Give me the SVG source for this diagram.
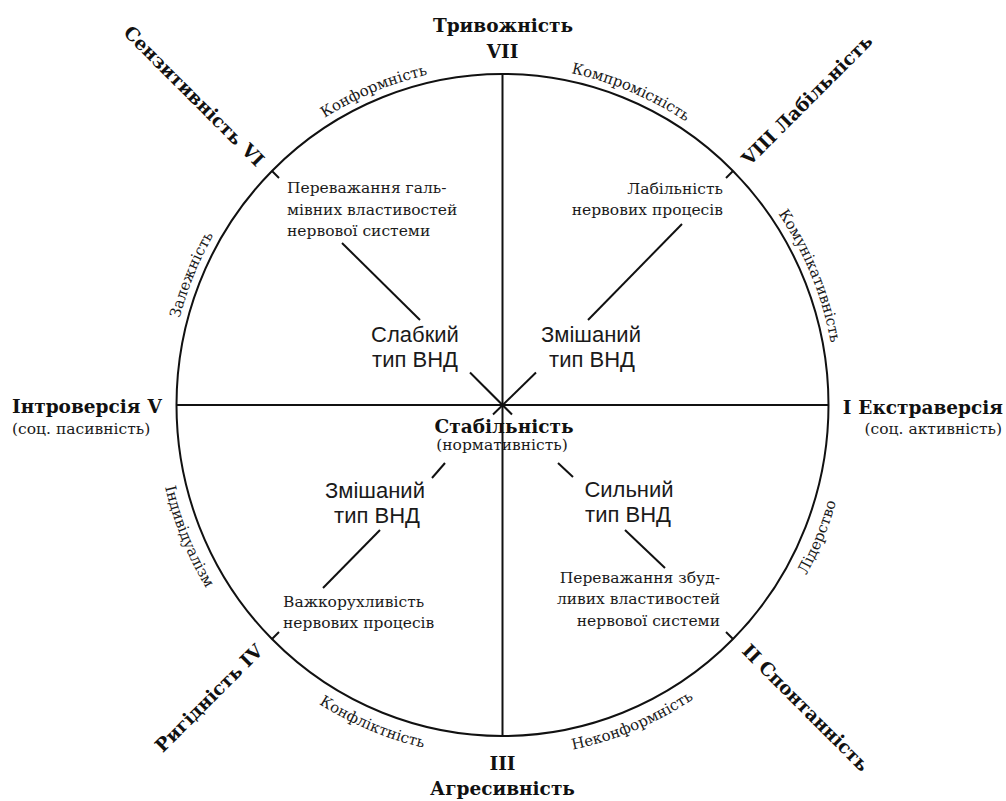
<svg xmlns="http://www.w3.org/2000/svg" width="1006" height="801" viewBox="0 0 1006 801">
<style>
.ln{stroke:#111;stroke-width:2;fill:none;stroke-linecap:butt}
.sf{font-family:"DejaVu Serif","Liberation Serif",serif;font-size:15.5px;fill:#1a1a1a}
.bd{font-family:"DejaVu Serif","Liberation Serif",serif;font-size:18.5px;font-weight:bold;fill:#111}
.ss{font-family:"Liberation Sans","Arial",sans-serif;font-size:22px;fill:#1a1a1a}
.arc{font-family:"DejaVu Serif","Liberation Serif",serif;font-size:15px;fill:#1a1a1a}
.m{text-anchor:middle}
.e{text-anchor:end}
</style>
<defs>
<path id="pKonf" d="M 237.5 198.6 A 334 339 0 0 1 546.1 68.9"/>
<path id="pKomp" d="M 458.9 68.9 A 334 339 0 0 1 767.5 198.6"/>
<path id="pKomu" d="M 705.8 136 A 334 339 0 0 1 833.6 449.2"/>
<path id="pZal" d="M 171.4 449.2 A 334 339 0 0 1 299.2 136"/>
<path id="pNek" d="M 457.2 754 A 347 352 0 0 0 777.8 619.3"/>
<path id="pLid" d="M 713.8 684.3 A 347 352 0 0 0 846.5 359.1"/>
<path id="pKfl" d="M 227.2 619.3 A 347 352 0 0 0 547.8 754"/>
<path id="pInd" d="M 158.5 359.1 A 347 352 0 0 0 291.2 684.3"/>
</defs>
<rect width="1006" height="801" fill="#fff"/>

<g id="connectors">
<ellipse class="ln" cx="502.5" cy="405" rx="326" ry="331" stroke-width="2.2"/>
<line class="ln" x1="502.5" y1="74" x2="502.5" y2="736"/>
<line class="ln" x1="176.5" y1="405" x2="828.5" y2="405"/>
<line class="ln" x1="470" y1="372.5" x2="512" y2="414.5"/>
<line class="ln" x1="536" y1="372.5" x2="493" y2="414.5"/>
<line class="ln" x1="420" y1="320" x2="342" y2="243"/>
<line class="ln" x1="588" y1="320" x2="682" y2="224"/>
<line class="ln" x1="445" y1="463" x2="432" y2="478"/>
<line class="ln" x1="380" y1="530" x2="323" y2="588"/>
<line class="ln" x1="558" y1="463" x2="573" y2="477"/>
<line class="ln" x1="625" y1="530" x2="665" y2="568"/>
<line class="ln" x1="272" y1="171" x2="279" y2="178"/>
<line class="ln" x1="733" y1="171" x2="726" y2="178"/>
<line class="ln" x1="272" y1="639" x2="279" y2="632"/>
<line class="ln" x1="733" y1="639" x2="726" y2="632"/>
</g>

<g id="node-VII">
<text class="bd m" x="503" y="32">Тривожність</text>
<text class="bd m" x="502.5" y="58">VII</text>
</g>
<g id="node-III">
<text class="bd m" x="502.5" y="770">III</text>
<text class="bd m" x="502.5" y="795">Агресивність</text>
</g>
<g id="node-V">
<text class="bd" x="12" y="413">Інтроверсія<tspan dx="7">V</tspan></text>
<text class="sf" x="12" y="433.5">(соц. пасивність)</text>
</g>
<g id="node-I">
<text class="bd e" x="1003" y="414">I<tspan dx="7">Екстраверсія</tspan></text>
<text class="sf e" x="1002" y="434">(соц. активність)</text>
</g>
<g id="node-VI">
<text class="bd e" transform="translate(261 163) rotate(45)" dy="0.35em">Сензитивність<tspan dx="7">VI</tspan></text>
</g>
<g id="node-VIII">
<text class="bd" transform="translate(745 162) rotate(-45)" dy="0.35em">VIII<tspan dx="6">Лабільність</tspan></text>
</g>
<g id="node-IV">
<text class="bd e" transform="translate(259.5 647.5) rotate(-45)" dy="0.35em">Ригідність<tspan dx="6">IV</tspan></text>
</g>
<g id="node-II">
<text class="bd" transform="translate(745.5 647.5) rotate(45)" dy="0.35em">II<tspan dx="6">Спонтанність</tspan></text>
</g>

<g id="node-centre">
<text class="bd m" x="504" y="433">Стабільність</text>
<text class="sf m" x="502" y="449.5">(нормативність)</text>
</g>

<g id="node-weak">
<text class="ss m" x="415" y="342">Слабкий</text>
<text class="ss m" x="415" y="367">тип ВНД</text>
</g>
<g id="node-mixed-ur">
<text class="ss m" x="591" y="342">Змішаний</text>
<text class="ss m" x="592" y="367">тип ВНД</text>
</g>
<g id="node-mixed-ll">
<text class="ss m" x="375" y="498">Змішаний</text>
<text class="ss m" x="377" y="523">тип ВНД</text>
</g>
<g id="node-strong">
<text class="ss m" x="629" y="497">Сильний</text>
<text class="ss m" x="628" y="522">тип ВНД</text>
</g>

<g id="node-inhib">
<text class="sf" x="287" y="193">Переважання галь-</text>
<text class="sf" x="287" y="215">мівних властивостей</text>
<text class="sf" x="287" y="236">нервової системи</text>
</g>
<g id="node-lability">
<text class="sf e" x="723" y="194">Лабільність</text>
<text class="sf e" x="723" y="215">нервових процесів</text>
</g>
<g id="node-inertia">
<text class="sf" x="283" y="607">Важкорухливість</text>
<text class="sf" x="283" y="627.5">нервових процесів</text>
</g>
<g id="node-excit">
<text class="sf e" x="720" y="582.5">Переважання збуд-</text>
<text class="sf e" x="720" y="604">ливих властивостей</text>
<text class="sf e" x="720" y="625.5">нервової системи</text>
</g>

<g id="arc-labels">
<text class="arc"><textPath href="#pKonf" startOffset="50%" text-anchor="middle">Конформність</textPath></text>
<text class="arc"><textPath href="#pKomp" startOffset="50%" text-anchor="middle">Компромісність</textPath></text>
<text class="arc"><textPath href="#pKomu" startOffset="50%" text-anchor="middle">Комунікативність</textPath></text>
<text class="arc"><textPath href="#pZal" startOffset="50%" text-anchor="middle">Залежність</textPath></text>
<text class="arc"><textPath href="#pNek" startOffset="50%" text-anchor="middle">Неконформність</textPath></text>
<text class="arc"><textPath href="#pLid" startOffset="50%" text-anchor="middle">Лідерство</textPath></text>
<text class="arc"><textPath href="#pKfl" startOffset="50%" text-anchor="middle">Конфліктність</textPath></text>
<text class="arc"><textPath href="#pInd" startOffset="50%" text-anchor="middle">Індивідуалізм</textPath></text>
</g>
</svg>
